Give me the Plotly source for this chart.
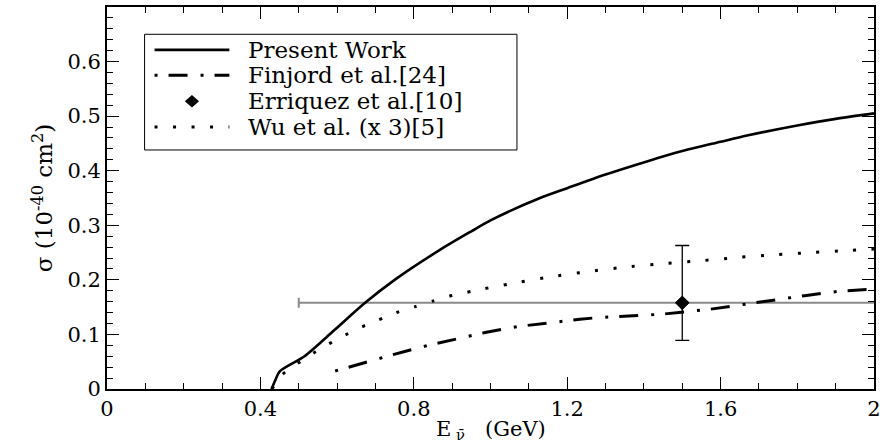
import plotly.graph_objects as go

# Total cross section vs antineutrino energy
present_E = [0.429, 0.44, 0.45, 0.515, 0.593, 0.673, 0.75, 0.866, 0.95, 1.0, 1.126,
             1.2, 1.3, 1.412, 1.5, 1.6, 1.672, 1.8, 1.9, 2.0]
present_sigma = [0.0, 0.018, 0.032, 0.060, 0.108, 0.158, 0.200, 0.254, 0.289, 0.309, 0.349,
                 0.368, 0.393, 0.418, 0.436, 0.453, 0.465, 0.483, 0.495, 0.505]

finjord_E = [0.595, 0.677, 0.746, 0.829, 0.914, 0.986, 1.070, 1.158, 1.233, 1.282,
             1.446, 1.571, 1.658, 1.733, 1.819, 1.907, 2.0]
finjord_sigma = [0.033, 0.050, 0.063, 0.0785, 0.0925, 0.1035, 0.1144, 0.1223, 0.1277, 0.131,
                 0.137, 0.146, 0.155, 0.162, 0.171, 0.179, 0.183]

wu_E = [0.43, 0.458, 0.491, 0.526, 0.562, 0.600, 0.638, 0.678, 0.720, 0.762, 0.804,
        0.849, 0.893, 0.985, 1.076, 1.170, 1.263, 1.359, 1.453, 1.549, 1.644, 1.740,
        1.835, 1.930, 2.0]
wu_sigma = [0.0, 0.027, 0.044, 0.060, 0.076, 0.091, 0.105, 0.118, 0.130, 0.142, 0.151,
            0.161, 0.170, 0.184, 0.196, 0.207, 0.216, 0.224, 0.230, 0.235, 0.241, 0.246,
            0.250, 0.2536, 0.2565]

# Erriquez et al. measurement
erriquez_E = [1.5]
erriquez_sigma = [0.158]
erriquez_err_up = [0.105]
erriquez_err_down = [0.069]
erriquez_E_minus = [1.0]
erriquez_E_plus = [1.0]

legend_labels = ["Present Work", "Finjord et al.[24]", "Erriquez et al.[10]", "Wu et al. (x 3)[5]"]

x_tickvals = [0, 0.4, 0.8, 1.2, 1.6, 2.0]
x_ticktext = ["0", "0.4", "0.8", "1.2", "1.6", "2"]
y_tickvals = [0, 0.1, 0.2, 0.3, 0.4, 0.5, 0.6]
y_ticktext = ["0", "0.1", "0.2", "0.3", "0.4", "0.5", "0.6"]

FONT = "DejaVu Serif"
DASHDOT = "3px,11px,19px,13px"
DOTS = "3px,15.5px"

fig = go.Figure()

fig.add_trace(go.Scatter(
    x=erriquez_E, y=erriquez_sigma, mode="markers",
    marker=dict(symbol="diamond", size=11, color="black"),
    error_x=dict(type="data", symmetric=False, array=erriquez_E_plus,
                 arrayminus=erriquez_E_minus, color="#8a8a8a", thickness=2, width=5),
    showlegend=False,
))
fig.add_trace(go.Scatter(
    x=erriquez_E, y=erriquez_sigma, mode="markers",
    marker=dict(symbol="diamond", size=11, color="black"),
    error_y=dict(type="data", symmetric=False, array=erriquez_err_up,
                 arrayminus=erriquez_err_down, color="black", thickness=1.3, width=7),
    showlegend=False,
))
fig.add_trace(go.Scatter(x=present_E, y=present_sigma, mode="lines",
                         line=dict(color="black", width=2.6, shape="spline", smoothing=0.8),
                         showlegend=False))
fig.add_trace(go.Scatter(x=finjord_E, y=finjord_sigma, mode="lines",
                         line=dict(color="black", width=3, dash=DASHDOT), showlegend=False))
fig.add_trace(go.Scatter(x=wu_E, y=wu_sigma, mode="lines",
                         line=dict(color="black", width=3, dash=DOTS, shape="spline", smoothing=0.6),
                         showlegend=False))

# Hand-drawn legend box in the upper left of the plot
box_x0, box_x1, box_y0, box_y1 = 0.098, 1.069, 0.438, 0.650
sample_x0, sample_x1 = 0.124, 0.319
row_y = [0.6214, 0.5748, 0.5274, 0.4799]
text_x = 0.3636

shapes = [
    dict(type="rect", xref="x", yref="y", x0=box_x0, x1=box_x1, y0=box_y0, y1=box_y1,
         line=dict(color="black", width=1), fillcolor="white", layer="above"),
    dict(type="line", xref="x", yref="y", x0=sample_x0, x1=sample_x1, y0=row_y[0], y1=row_y[0],
         line=dict(color="black", width=2.6), layer="above"),
    dict(type="line", xref="x", yref="y", x0=sample_x0, x1=sample_x1, y0=row_y[1], y1=row_y[1],
         line=dict(color="black", width=3, dash=DASHDOT), layer="above"),
    dict(type="line", xref="x", yref="y", x0=sample_x0, x1=sample_x1, y0=row_y[3], y1=row_y[3],
         line=dict(color="black", width=3, dash=DOTS), layer="above"),
]
dx, dy = 0.0185, 0.0115
cx = (sample_x0 + sample_x1) / 2
cy = row_y[2]
shapes.append(dict(
    type="path", xref="x", yref="y", layer="above",
    path=f"M {cx - dx},{cy} L {cx},{cy + dy} L {cx + dx},{cy} L {cx},{cy - dy} Z",
    fillcolor="black", line=dict(color="black", width=0),
))

annotations = [
    dict(x=text_x, y=ry, xref="x", yref="y", text=lab, showarrow=False,
         xanchor="left", yanchor="middle", font=dict(family=FONT, size=23, color="black"))
    for lab, ry in zip(legend_labels, row_y)
]
# x-axis title
annotations.append(dict(
    x=0.5, y=-0.145, xref="paper", yref="paper", yanchor="bottom", xanchor="center",
    text="E<sub> ν̄</sub>   (GeV)", showarrow=False, borderpad=0,
    font=dict(family=FONT, size=21, color="black"),
))

axis_common = dict(
    showline=True, linecolor="black", linewidth=2, mirror="allticks",
    ticks="inside", ticklen=12, tickwidth=1, tickcolor="black",
    showgrid=False, zeroline=False,
    tickfont=dict(family=FONT, size=21, color="black"),
)

fig.update_layout(
    width=886, height=444,
    margin=dict(l=107, r=10, t=5, b=55),
    paper_bgcolor="white", plot_bgcolor="white",
    shapes=shapes, annotations=annotations,
    xaxis=dict(range=[0, 2], tickmode="array", tickvals=x_tickvals, ticktext=x_ticktext,
               minor=dict(dtick=0.1, tick0=0, ticks="inside", ticklen=6, tickcolor="black"),
               **axis_common),
    yaxis=dict(range=[0, 0.7], tickmode="array", tickvals=y_tickvals, ticktext=y_ticktext,
               minor=dict(dtick=0.02, tick0=0, ticks="inside", ticklen=6, tickcolor="black"),
               title=dict(text="σ (10<sup>-40</sup> cm<sup>2</sup>)", standoff=8,
                          font=dict(family=FONT, size=23, color="black")),
               **axis_common),
)

fig.write_html("out.html")
